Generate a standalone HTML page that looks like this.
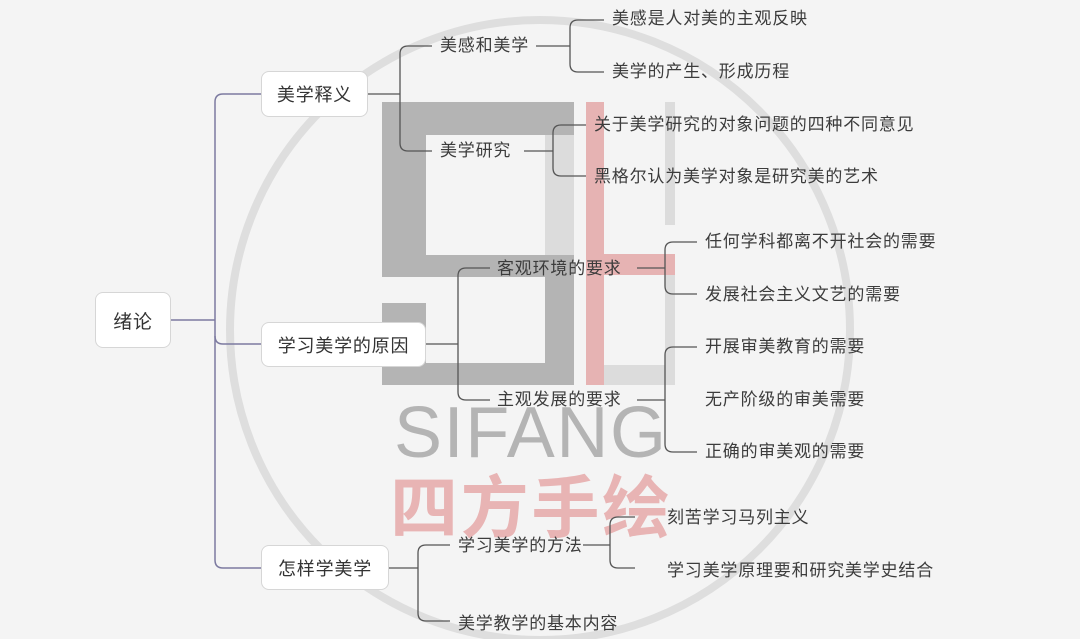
<!DOCTYPE html>
<html><head><meta charset="utf-8"><style>
body{margin:0;width:1080px;height:639px;overflow:hidden;background:#f4f4f4;position:relative;font-family:"Liberation Sans","Noto Sans CJK SC",sans-serif;}
.t{position:absolute;font-size:17px;color:#3c3c3c;white-space:nowrap;line-height:20px;letter-spacing:0.8px;}
.b{position:absolute;background:#fff;border:1px solid #d6d6d6;border-radius:8px;box-sizing:border-box;font-size:18px;color:#333;display:flex;align-items:center;justify-content:center;letter-spacing:0.8px;}
svg{position:absolute;left:0;top:0}
</style></head><body>
<svg width="1080" height="639">
<circle cx="540" cy="330" r="310" fill="none" stroke="#dedede" stroke-width="8"/>
<g fill="#b4b4b4">
<rect x="382" y="102" width="192" height="33"/>
<rect x="382" y="102" width="44" height="175"/>
<rect x="382" y="255" width="192" height="22"/>
<rect x="545" y="255" width="29" height="130"/>
<rect x="382" y="363" width="192" height="22"/>
<rect x="382" y="303" width="44" height="82"/>
</g>
<rect x="545" y="135" width="29" height="120" fill="#dcdcdc"/>
<rect x="665" y="102" width="10" height="123" fill="#dcdcdc"/>
<rect x="665" y="275" width="10" height="110" fill="#dcdcdc"/>
<rect x="604" y="365" width="71" height="20" fill="#dcdcdc"/>
<rect x="586" y="102" width="18" height="283" fill="#e6b3b3"/>
<rect x="586" y="254" width="89" height="21" fill="#e6b3b3"/>
<text x="530" y="457" text-anchor="middle" font-family="Liberation Sans,sans-serif" font-size="72" fill="#b4b4b4" textLength="272">SIFANG</text>
<text x="530" y="532" text-anchor="middle" font-family="Noto Sans CJK SC,sans-serif" font-weight="bold" font-size="68" fill="#e8b4b4" textLength="280">四方手绘</text>
<g fill="none" stroke="#7c7aa0" stroke-width="1.5">
<path d="M170 320 H215"/>
<path d="M261 94 H223 Q215 94 215 102 V560 Q215 568 223 568 H261"/>
<path d="M215 336 Q215 344 223 344 H261"/>
</g>
<g fill="none" stroke="#555" stroke-width="1.3">
<path d="M367 94 H400"/>
<path d="M432 46 H408 Q400 46 400 54 V143 Q400 151 408 151 H432"/>
<path d="M536 46 H570"/>
<path d="M604 20 H578 Q570 20 570 28 V64 Q570 72 578 72 H604"/>
<path d="M524 151 H553"/>
<path d="M586 125 H561 Q553 125 553 133 V168 Q553 176 561 176 H586"/>
<path d="M425 344 H458"/>
<path d="M490 268 H466 Q458 268 458 276 V392 Q458 400 466 400 H490"/>
<path d="M637 268 H665"/>
<path d="M697 242 H673 Q665 242 665 250 V286 Q665 294 673 294 H697"/>
<path d="M637 400 H665"/>
<path d="M697 347 H673 Q665 347 665 355 V444 Q665 452 673 452 H697"/>
<path d="M388 568 H418"/>
<path d="M450 545 H426 Q418 545 418 553 V613 Q418 621 426 621 H450"/>
<path d="M583 545 H610"/>
<path d="M635 517 H618 Q610 517 610 525 V560 Q610 568 618 568 H635"/>
</g>
</svg>
<div class="b" style="left:95px;top:292px;width:76px;height:56px;font-size:19px">绪论</div>
<div class="b" style="left:261px;top:71px;width:107px;height:46px">美学释义</div>
<div class="b" style="left:261px;top:322px;width:165px;height:45px">学习美学的原因</div>
<div class="b" style="left:261px;top:545px;width:128px;height:45px">怎样学美学</div>
<div class="t" style="left:440px;top:36px">美感和美学</div>
<div class="t" style="left:440px;top:141px">美学研究</div>
<div class="t" style="left:497px;top:259px">客观环境的要求</div>
<div class="t" style="left:497px;top:390px">主观发展的要求</div>
<div class="t" style="left:458px;top:536px">学习美学的方法</div>
<div class="t" style="left:458px;top:614px">美学教学的基本内容</div>
<div class="t" style="left:612px;top:9px">美感是人对美的主观反映</div>
<div class="t" style="left:612px;top:62px">美学的产生、形成历程</div>
<div class="t" style="left:594px;top:115px">关于美学研究的对象问题的四种不同意见</div>
<div class="t" style="left:594px;top:167px">黑格尔认为美学对象是研究美的艺术</div>
<div class="t" style="left:705px;top:232px">任何学科都离不开社会的需要</div>
<div class="t" style="left:705px;top:285px">发展社会主义文艺的需要</div>
<div class="t" style="left:705px;top:337px">开展审美教育的需要</div>
<div class="t" style="left:705px;top:390px">无产阶级的审美需要</div>
<div class="t" style="left:705px;top:442px">正确的审美观的需要</div>
<div class="t" style="left:667px;top:508px">刻苦学习马列主义</div>
<div class="t" style="left:667px;top:561px">学习美学原理要和研究美学史结合</div>
</body></html>
